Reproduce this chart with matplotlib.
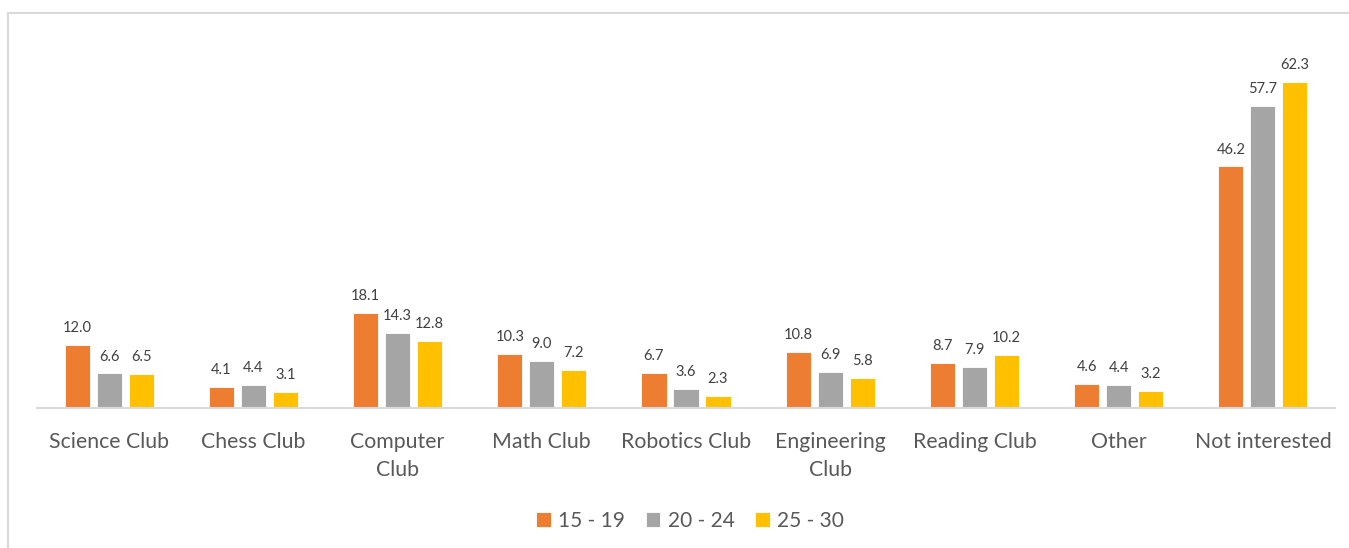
import numpy as np
import matplotlib
matplotlib.use("Agg")
import matplotlib.pyplot as plt
from matplotlib.patches import Rectangle

plt.rcParams['font.family'] = ['Lato', 'DejaVu Sans']

categories = ["Science Club", "Chess Club", "Computer\nClub", "Math Club", "Robotics Club",
              "Engineering\nClub", "Reading Club", "Other", "Not interested"]
series_names = ["15 - 19", "20 - 24", "25 - 30"]
age_15_19 = [12.0, 4.1, 18.1, 10.3, 6.7, 10.8, 8.7, 4.6, 46.2]
age_20_24 = [6.6, 4.4, 14.3, 9.0, 3.6, 6.9, 7.9, 4.4, 57.7]
age_25_30 = [6.5, 3.1, 12.8, 7.2, 2.3, 5.8, 10.2, 3.2, 62.3]
colors = ["#ED7D31", "#A5A5A5", "#FFC000"]

fig = plt.figure(figsize=(13.49, 5.48), dpi=100)
ax = fig.add_axes([37 / 1349, 140 / 548, 1298 / 1349, 366 / 548])

# outer chart frame (cut at right/bottom like the screenshot)
fig.patches.append(Rectangle((8 / 1349, -0.1), 1.2, (548 - 13) / 548 + 0.1,
                             transform=fig.transFigure, fill=False,
                             edgecolor="#d9d9d9", linewidth=1.5, clip_on=False))

x = np.arange(len(categories))
width = 0.174
step = 0.222
for i, (vals, name) in enumerate(zip([age_15_19, age_20_24, age_25_30], series_names)):
    pos = x + (i - 1) * step
    bars = ax.bar(pos, vals, width=width, color=colors[i], label=name,
                  edgecolor="white", linewidth=0.6)
    for b, v in zip(bars, vals):
        ax.text(b.get_x() + b.get_width() / 2, v + 1.9, f"{v:.1f}",
                ha="center", va="bottom", fontsize=10.5, color="#404040")

ax.set_xlim(-0.5, len(categories) - 0.5)
ax.set_ylim(0, 70)
ax.set_yticks([])
ax.set_xticks(x)
ax.set_xticklabels(categories, fontsize=15.3, color="#595959", linespacing=1.5)
ax.tick_params(axis="x", length=0, pad=17)
for s in ["top", "right", "left"]:
    ax.spines[s].set_visible(False)
ax.spines["bottom"].set_color("#d9d9d9")
ax.spines["bottom"].set_linewidth(1.5)

leg = fig.legend(loc="center", bbox_to_anchor=(690 / 1349, 1 - 521 / 548), ncol=3,
                 frameon=False, fontsize=15, handlelength=0.7, handleheight=0.7,
                 handletextpad=0.35, columnspacing=1.0)
for t in leg.get_texts():
    t.set_color("#595959")

fig.savefig("out.png", dpi=100)
